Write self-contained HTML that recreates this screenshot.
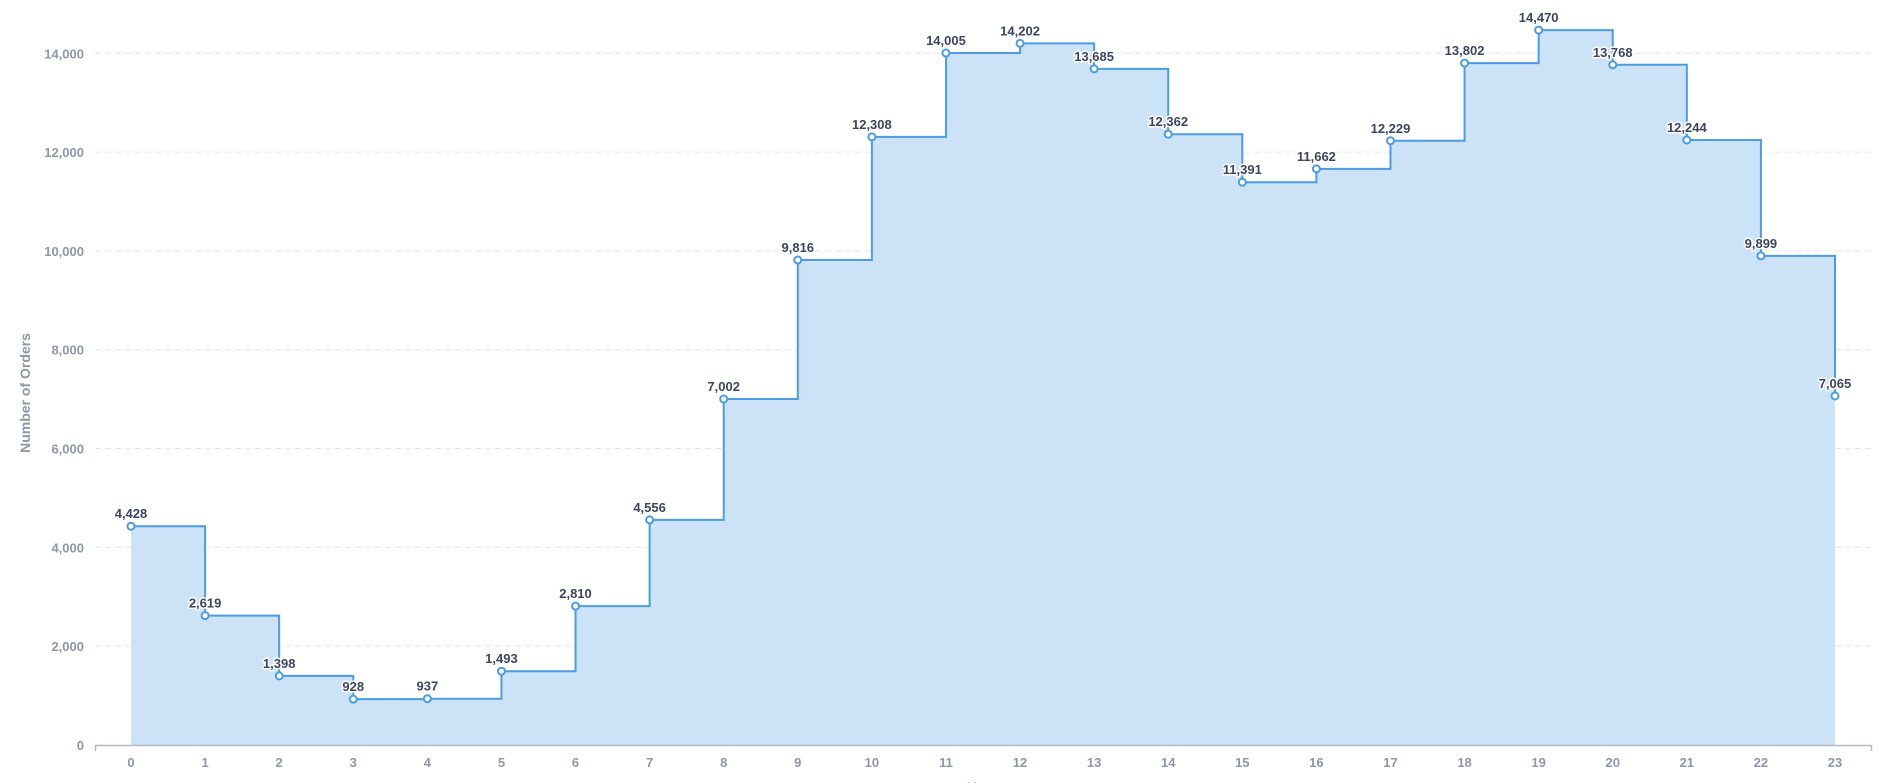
<!DOCTYPE html>
<html><head><meta charset="utf-8"><style>
html,body{margin:0;padding:0;background:#fff;width:1895px;height:783px;overflow:hidden;font-family:"Liberation Sans",sans-serif;}
svg text{font-family:"Liberation Sans",sans-serif;font-weight:bold;}
</style></head><body>
<svg id="chart" width="1895" height="783" xmlns="http://www.w3.org/2000/svg"></svg>
<script>
const categories=[0,1,2,3,4,5,6,7,8,9,10,11,12,13,14,15,16,17,18,19,20,21,22,23];
const orders=[4428,2619,1398,928,937,1493,2810,4556,7002,9816,12308,14005,14202,13685,12362,11391,11662,12229,13802,14470,13768,12244,9899,7065];
const yTicks=[0,2000,4000,6000,8000,10000,12000,14000];
const yTickLabels=["0","2,000","4,000","6,000","8,000","10,000","12,000","14,000"];

const NS="http://www.w3.org/2000/svg";
const svg=document.getElementById('chart');
const X0=131,X1=1835,Y0=745,Y1=53.3;
function xs(i){return X0+(X1-X0)*i/(categories.length-1);}
function ys(v){return Y0-(Y0-Y1)*v/14000;}
function mk(tag,attrs,parent){const e=document.createElementNS(NS,tag);for(const k in attrs)e.setAttribute(k,attrs[k]);(parent||svg).appendChild(e);return e;}
function fmt(v){return v.toLocaleString('en-US');}

// grid + y labels
yTicks.forEach((t,i)=>{
  if(t>0){const g=mk('line',{x1:95,x2:1872,y1:ys(t),y2:ys(t),stroke:'#e6e6e6','stroke-dasharray':'6,4','stroke-width':1});
  
  }
  const l=mk('text',{x:84,y:ys(t)+5,'text-anchor':'end','font-size':13,fill:'#8e96a8'});
  l.textContent=yTickLabels[i];
  
  
});

// area + step line
let d='M'+xs(0)+','+ys(orders[0]);
for(let i=1;i<orders.length;i++){d+=' H'+xs(i)+' V'+ys(orders[i]);}
const area=mk('path',{d:d+' V'+Y0+' H'+xs(0)+' Z',fill:'#cce2f7',stroke:'none'});


const line=mk('path',{d:d,fill:'none',stroke:'#4a9ce3','stroke-width':2});



// axis
const ax=mk('path',{d:'M95.5,751 V745.5 H1871.5 V751',fill:'none',stroke:'#b5b9c6','stroke-width':1.5});



categories.forEach((c,i)=>{
  const t=mk('text',{x:xs(i),y:767,'text-anchor':'middle','font-size':13,fill:'#8e96a8'});
  t.textContent=c;
  
  
});

// points + labels
orders.forEach((v,i)=>{
  const p=mk('circle',{cx:xs(i),cy:ys(v),r:3.5,fill:'#fff',stroke:'#4a9ce3','stroke-width':2});
  
  
  const t=mk('text',{x:xs(i),y:ys(v)-8,'text-anchor':'middle','font-size':13,fill:'#3d4660',stroke:'#fff','stroke-width':3,'paint-order':'stroke','stroke-linejoin':'round'});
  t.textContent=fmt(v);
  
  
});

const yt=mk('text',{x:0,y:0,transform:'translate(30,393) rotate(-90)','text-anchor':'middle','font-size':14,fill:'#8e96a8'});
yt.textContent='Number of Orders';


const xt=mk('text',{x:983,y:792,'text-anchor':'middle','font-size':14,fill:'#8e96a8'});
xt.textContent='Hour';


</script>
</body></html>
